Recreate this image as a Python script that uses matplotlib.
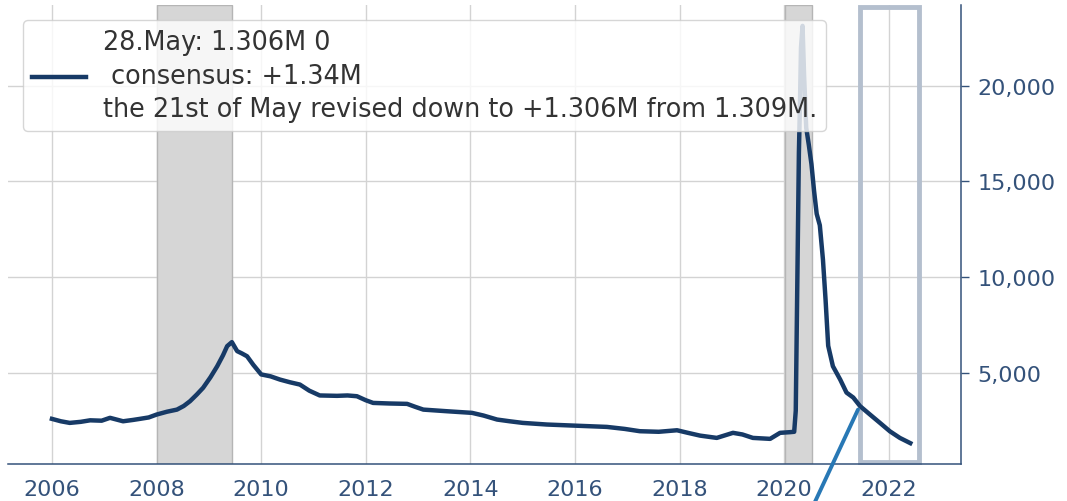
import numpy as np
import matplotlib
matplotlib.use("Agg")
from matplotlib import pyplot as plt
from matplotlib.ticker import FuncFormatter

# continuing jobless claims, thousands
years = [
    2006.00, 2006.17, 2006.34, 2006.55, 2006.73, 2006.95, 2007.11, 2007.36, 2007.55, 2007.68,
    2007.85, 2008.00, 2008.20, 2008.39, 2008.52, 2008.64, 2008.77, 2008.89, 2009.03, 2009.16,
    2009.27, 2009.35, 2009.44, 2009.54, 2009.63, 2009.73, 2009.85, 2010.00, 2010.18, 2010.36,
    2010.55, 2010.74, 2010.92, 2011.12, 2011.45, 2011.65, 2011.83, 2012.00, 2012.14, 2012.45,
    2012.79, 2012.95, 2013.10, 2013.55, 2014.03, 2014.25, 2014.51, 2014.75, 2015.00, 2015.46,
    2015.96, 2016.61, 2016.95, 2017.24, 2017.60, 2017.95, 2018.15, 2018.39, 2018.71, 2019.02,
    2019.20, 2019.40, 2019.73, 2019.92, 2020.11, 2020.19, 2020.22, 2020.24, 2020.26, 2020.28,
    2020.30, 2020.32, 2020.35, 2020.38, 2020.42, 2020.47, 2020.52, 2020.57, 2020.62, 2020.68,
    2020.74, 2020.79, 2020.84, 2020.93, 2021.07, 2021.19, 2021.32, 2021.45, 2021.64, 2021.83,
    2022.02, 2022.21, 2022.41,
]
claims = [
    2575, 2450, 2365, 2420, 2500, 2480, 2630, 2450, 2520, 2575,
    2650, 2800, 2950, 3060, 3250, 3500, 3850, 4200, 4750, 5330,
    5900, 6380, 6590, 6120, 6000, 5850, 5400, 4900, 4800, 4630,
    4490, 4370, 4050, 3800, 3780, 3800, 3760, 3550, 3410, 3380,
    3360, 3200, 3060, 2975, 2890, 2750, 2540, 2450, 2365, 2280,
    2225, 2155, 2050, 1930, 1900, 1980, 1850, 1700, 1580, 1845,
    1760, 1580, 1530, 1845, 1880, 1900, 3000, 7500, 12000, 16500,
    19000, 22000, 23130, 20500, 17800, 16900, 15900, 14500, 13300, 12700,
    10900, 8800, 6400, 5330, 4630, 3950, 3690, 3240, 2800, 2365,
    1925, 1580, 1306,
]

recessions = [(2008.0, 2009.44), (2020.02, 2020.53)]
highlight = (2021.45, 2022.58)

label = ("28.May: 1.306M 0\n consensus: +1.34M\n"
         "the 21st of May revised down to +1.306M from 1.309M.")

NAVY = "#173a66"
AXC = "#34527a"

plt.rcParams["font.family"] = "DejaVu Sans"
fig = plt.figure(figsize=(10.67, 5.02), dpi=100)
ax = fig.add_axes([0.0075, 0.0737, 0.8932, 0.9143])

for start, end in recessions:
    ax.axvspan(start, end, facecolor="#d6d6d6", edgecolor="#b5b5b5", lw=1, zorder=1)

ax.plot(years, claims, color=NAVY, lw=3.2, label=label, zorder=3)

ax.axvspan(highlight[0], highlight[1], ymin=0.005, ymax=0.995, fill=False,
           edgecolor="#b4bfce", lw=3.5, clip_on=False, zorder=2)

ax.annotate("", xy=(2021.41, 3060), xytext=(2020.25, -3744),
            arrowprops=dict(arrowstyle="-", color="#2878b5", lw=2.8,
                            shrinkA=0, shrinkB=0),
            annotation_clip=False, zorder=4)

ax.set_xlim(2005.16, 2023.38)
ax.set_ylim(215, 24220)
ax.set_xticks(range(2006, 2023, 2))
ax.set_yticks([5000, 10000, 15000, 20000])
ax.yaxis.set_major_formatter(FuncFormatter(lambda v, _: f"{v:,.0f}"))
ax.yaxis.tick_right()

ax.grid(True, color="#d3d3d3", lw=1, zorder=0)
ax.set_axisbelow(True)
for side in ("left", "top"):
    ax.spines[side].set_visible(False)
for side in ("bottom", "right"):
    ax.spines[side].set_color(AXC)
    ax.spines[side].set_linewidth(1.1)

ax.tick_params(axis="x", length=0, pad=11, labelsize=16, colors=AXC)
ax.tick_params(axis="y", length=6, width=1, pad=6, labelsize=16, colors=AXC)

leg = ax.legend(loc="upper left", fontsize=18.4, handlelength=2.1, handletextpad=0.65,
                borderaxespad=0.6, borderpad=0.35, framealpha=0.8)
for t in leg.get_texts():
    t.set_color("#333333")
    t.set_linespacing(1.36)

fig.savefig("out.png", dpi=100)
